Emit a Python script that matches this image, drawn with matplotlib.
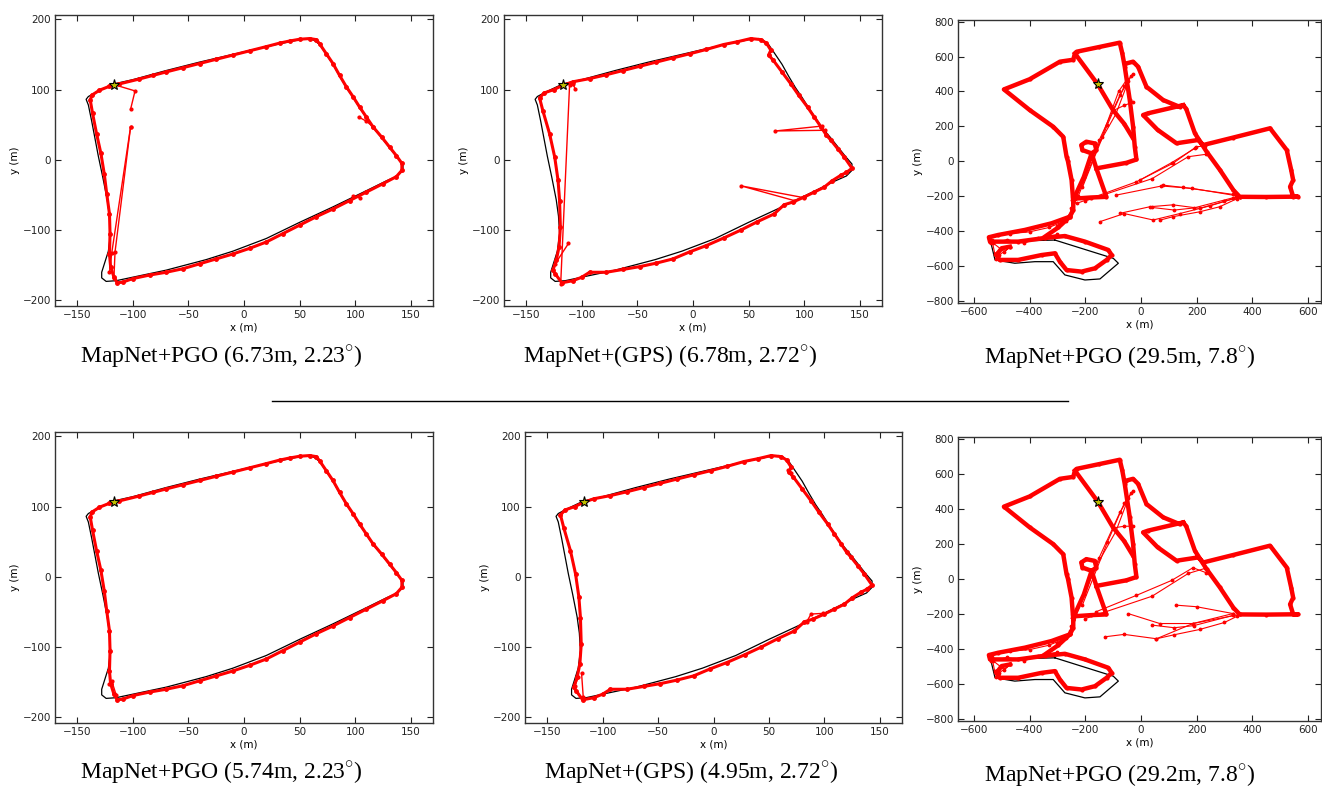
import matplotlib
matplotlib.use("Agg")
import matplotlib.pyplot as plt
from matplotlib.lines import Line2D

# ground truth of the small loop (same route in the four small panels)
gt_small = [(-117, 108), (-100, 114), (-70, 127), (-40, 139), (-10, 150), (20, 161), (38, 167),
            (52, 171.5), (59, 172.5), (63, 170), (68, 164), (74, 150), (80, 136), (86, 119),
            (92, 103), (98, 89), (104, 74), (110, 60), (116, 46), (124, 31), (131, 17), (137, 5),
            (143, -6), (143, -15), (138, -23), (128, -30), (110, -44), (80, -67), (50, -89),
            (20, -112), (-10, -130), (-34, -142), (-70, -157), (-100, -167), (-115, -172),
            (-124, -173), (-128, -168), (-128, -160), (-126, -150), (-122, -130), (-120, -105),
            (-121, -80), (-123, -57), (-127, -25), (-131, 5), (-134, 30), (-137, 55), (-140, 78),
            (-142, 86), (-140, 90), (-133, 96), (-117, 108)]

# predicted loops
pgo_loop = [(-117, 107), (-112, 108), (-94, 115), (-82, 120), (-70, 125), (-55, 131), (-40, 137),
            (-25, 143), (-10, 149), (5, 155), (20, 161), (32, 166), (41, 169), (50, 171.5),
            (59, 172.5), (65, 171), (68, 165), (74, 151), (80, 137), (86, 120), (92, 104),
            (98, 90), (104, 75), (110, 61), (116, 47), (124, 32), (131, 18), (137, 6), (142, -5),
            (142, -15), (137, -24), (125, -34), (110, -46), (95, -58), (80, -70), (65, -81),
            (50, -93), (35, -105), (20, -117), (5, -126), (-10, -134), (-25, -141), (-40, -148),
            (-55, -155), (-70, -160), (-85, -164), (-100, -169), (-109, -174), (-114, -175),
            (-117, -167), (-120, -152), (-121, -134), (-120.5, -105), (-121, -77), (-123.5, -48),
            (-125.7, -20), (-128.7, 9), (-132.6, 37), (-136.2, 66), (-138.3, 85), (-136.8, 92),
            (-130, 99), (-121, 104.6), (-117, 107)]

gps_loop = [(-117, 106), (-108, 111), (-93, 115.5), (-78, 121), (-63, 127), (-48, 133), (-33, 139),
            (-18, 145), (-2.5, 151), (12, 157), (27.5, 164), (40, 168), (52, 172.5), (61, 171),
            (66, 166), (70, 156), (68, 149), (72, 142), (80, 125), (88, 108), (95, 92), (103, 75),
            (109, 61), (115, 47), (120, 35), (124, 28), (130, 16), (136, 4), (143, -12), (138, -18),
            (133, -22), (125, -30), (118, -39), (109, -46), (100, -53), (90, -60), (82, -64),
            (73, -77), (58, -88), (43, -100), (28, -111), (12, -122), (-3, -131), (-18, -141),
            (-33, -147), (-48, -152), (-63, -156), (-78, -160), (-93, -160), (-100, -167),
            (-108, -172), (-118, -175), (-124, -162), (-126, -157), (-123, -143), (-120.5, -124),
            (-119.3, -96), (-120, -58), (-121.4, -29), (-124.4, 4), (-129, 37), (-135, 69.5),
            (-138, 88), (-134, 95), (-125, 100), (-117, 106)]

# outlier excursions per small panel
spurs_1 = [[(-117, 107), (-98, 98), (-102, 72)],
           [(-102, 47), (-119, -133), (-121, -160)],
           [(-102, 47), (-116, -131), (-117, -168)],
           [(103, 61), (110, 55), (116, 47)],
           [(98, -52), (104, -54)]]
spurs_2 = [[(-111, 107), (-119, -176)],
           [(-112, -119), (-124, -148)],
           [(116, 48), (74, 41), (119, 42)],
           [(100, -54), (43, -37), (91, -58)],
           [(-108, 108), (-106, 101)]]
spurs_4 = [[(-121, -152), (-119, -148), (-115, -168)]]
spurs_5 = [[(-119, -137), (-117.5, -170.5)],
           [(-125, -156), (-122, -142)],
           [(84, -64), (88, -53), (99, -52)],
           [(67, 152), (70, 148)]]

# large trajectory (thick tracks)
track_a = [(-243, -232), (-249, -108), (-262, 0), (-267, 26), (-279, 140), (-315, 198), (-399, 293),
           (-492, 412), (-400, 470), (-291, 571), (-243, 582), (-237, 618), (-231, 628), (-150, 655),
           (-76, 680), (-67, 620), (-58, 542), (-40, 351), (-28, 198), (-22, 83), (-16, 10),
           (-52, -9), (-160, -41)]
track_b = [(-237, 618), (-155, 441), (-100, 293), (-60, 215), (-28, 131)]
track_c = [(-243, -222), (-205, -90), (-177, 45), (-210, 64), (-214, 93), (-196, 112), (-166, 102),
           (-160, 64), (-177, 45), (-160, -41), (-124, -204), (-180, -208), (-243, -215)]
track_d = [(-52, 561), (-28, 571), (-10, 542), (20, 427), (80, 351), (139, 312), (152, 322),
           (163, 300), (194, 160), (236, 55), (284, -50), (332, -165), (355, -204), (450, -205),
           (565, -203), (547, -203), (536, -146), (547, -108), (540, -51), (524, 64), (464, 189),
           (330, 135), (224, 93), (206, 122), (128, 103), (60, 180), (8, 265), (26, 275), (152, 322)]
track_e = [(-243, -232), (-243, -280), (-255, -318), (-321, -356), (-417, -394), (-513, -423),
           (-546, -436), (-542, -461), (-441, -461), (-345, -440), (-273, -429), (-201, -461),
           (-117, -509), (-105, -538), (-123, -566), (-165, -614), (-213, -633), (-267, -624),
           (-291, -576), (-309, -528), (-357, -538), (-441, -566), (-507, -566), (-519, -538),
           (-500, -499), (-471, -490)]
track_f = [(-345, -433), (-297, -380), (-255, -318)]
big_tracks = [track_a, track_b, track_c, track_d, track_e, track_f]

gt_big = [(-309, -452), (-531, -461), (-537, -480), (-524, -566), (-453, -585), (-381, -576),
          (-315, -576), (-273, -652), (-201, -681), (-147, -675), (-81, -585), (-99, -557),
          (-309, -452)]

mess_big = [[(-546, -440), (-470, -415), (-400, -405), (-330, -380), (-270, -340)],
            [(-540, -470), (-480, -450), (-420, -470), (-370, -440), (-300, -420)],
            [(-535, -450), (-525, -530), (-500, -500), (-520, -560)],
            [(-530, -470), (-490, -520), (-470, -490), (-510, -540)],
            [(-300, -370), (-270, -330), (-255, -300), (-250, -270)]]

jumps_3 = [[(-243, -230), (-165, 60), (-90, 270), (-45, 460)],
           [(-235, -215), (-150, 120), (-75, 380), (-30, 500)],
           [(-210, -150), (-120, 210), (-60, 430), (-35, 490)],
           [(-225, -200), (-140, 140), (-80, 400), (-50, 470)],
           [(-100, 290), (-60, 320), (-28, 340)],
           [(-231, -242), (-16, -118), (115, -12), (199, 83), (232, 88)],
           [(-200, -228), (40, -100), (170, 26), (235, 40)],
           [(-3.5, -108), (110, -8.5), (194, 74)],
           [(-88, -194), (74, -142), (182, -155), (340, -197)],
           [(80, -137), (150, -150), (330, -190)],
           [(-148, -347), (-60, -300), (44, -337), (140, -300), (250, -255), (355, -204)],
           [(-76, -299), (32, -261), (115, -250), (211, -270), (300, -230), (355, -204)],
           [(68, -338), (115, -318), (211, -290), (283, -261), (345, -215)],
           [(40, -265), (120, -280), (190, -268), (330, -210)]]

jumps_6 = [[(-243, -230), (-165, 60), (-90, 270), (-45, 460)],
           [(-235, -215), (-150, 120), (-75, 380), (-30, 500)],
           [(-210, -150), (-120, 210), (-60, 430), (-35, 490)],
           [(-100, 290), (-60, 300), (-30, 300)],
           [(-160, -188), (-16, -95), (110, -10), (187, 63), (235, 34)],
           [(-200, -228), (40, -100), (170, 30), (232, 60)],
           [(-46, -199), (68, -256), (187, -256), (331, -199)],
           [(127, -151), (200, -160), (331, -199)],
           [(-130, -332), (-60, -318), (56, -343), (187, -256), (355, -204)],
           [(56, -343), (120, -320), (211, -290), (300, -250), (345, -215)],
           [(40, -265), (120, -280), (190, -268), (330, -210)]]

star_small = (-117, 107)
star_big = (-155, 441)

captions = ["MapNet+PGO (6.73m, $\\mathrm{2.23}^{\\circ}$)",
            "MapNet+(GPS) (6.78m, $\\mathrm{2.72}^{\\circ}$)",
            "MapNet+PGO (29.5m, $\\mathrm{7.8}^{\\circ}$)",
            "MapNet+PGO (5.74m, $\\mathrm{2.23}^{\\circ}$)",
            "MapNet+(GPS) (4.95m, $\\mathrm{2.72}^{\\circ}$)",
            "MapNet+PGO (29.2m, $\\mathrm{7.8}^{\\circ}$)"]

W, H = 1322, 787
plt.rcParams['mathtext.fontset'] = 'custom'
plt.rcParams['mathtext.rm'] = 'Liberation Serif'
fig = plt.figure(figsize=(W / 100, H / 100), dpi=100)

# axes boxes in pixels: left, top, right, bottom
boxes = [(55, 15, 433, 306), (504, 15, 882, 306), (958, 20, 1321, 303),
         (55, 432, 433, 723), (525, 432, 902, 723), (958, 437, 1321, 721)]
cap_pos = [(221, 357), (670, 357), (1119, 358), (221, 773), (691, 773), (1119, 776)]


def make_ax(box):
    l, t, r, b = box
    ax = fig.add_axes([l / W, 1 - b / H, (r - l) / W, (b - t) / H])
    ax.tick_params(direction='in', top=True, right=True, labelsize=7.5, length=4,
                   width=0.8, pad=3, colors='#222222')
    for s in ax.spines.values():
        s.set_color('#333333')
        s.set_linewidth(1.0)
    ax.set_xlabel("x (m)", fontsize=7.5, labelpad=2)
    ax.set_ylabel("y (m)", fontsize=7.5, labelpad=2)
    return ax


def xy(pts):
    return [p[0] for p in pts], [p[1] for p in pts]


def small_panel(box, loop, spurs):
    ax = make_ax(box)
    ax.plot(*xy(gt_small), color='black', lw=0.9)
    ax.plot(*xy(loop), color='red', lw=2.2, marker='.', ms=5)
    for s in spurs:
        ax.plot(*xy(s), color='red', lw=1.0, marker='.', ms=4)
    ax.plot(*star_small, marker='*', ms=8, mfc='y', mec='black', mew=0.8)
    ax.set_xlim(-170, 170)
    ax.set_ylim(-208, 206)
    ax.set_xticks([-150, -100, -50, 0, 50, 100, 150])
    ax.set_yticks([-200, -100, 0, 100, 200])
    return ax


def big_panel(box, jumps):
    ax = make_ax(box)
    ax.plot(*xy(gt_big), color='black', lw=0.9)
    for s in mess_big + jumps:
        ax.plot(*xy(s), color='red', lw=0.8, marker='.', ms=3.5)
    for t in big_tracks:
        ax.plot(*xy(t), color='red', lw=3.2, marker='.', ms=4, solid_joinstyle='round')
    ax.plot(*star_big, marker='*', ms=8, mfc='y', mec='black', mew=0.8)
    ax.set_xlim(-657, 647)
    ax.set_ylim(-813, 810)
    ax.set_xticks([-600, -400, -200, 0, 200, 400, 600])
    ax.set_yticks([-800, -600, -400, -200, 0, 200, 400, 600, 800])
    return ax


small_panel(boxes[0], pgo_loop, spurs_1)
small_panel(boxes[1], gps_loop, spurs_2)
big_panel(boxes[2], jumps_3)
small_panel(boxes[3], pgo_loop, spurs_4)
small_panel(boxes[4], gps_loop, spurs_5)
big_panel(boxes[5], jumps_6)

for (cx, cy), txt in zip(cap_pos, captions):
    fig.text(cx / W, 1 - cy / H, txt, ha='center', va='center', fontsize=17,
             family='Liberation Serif')

# separator between the two rows
fig.add_artist(Line2D([272 / W, 1068 / W], [1 - 401 / H, 1 - 401 / H], color='black', lw=1))

fig.savefig("out.png", dpi=100)
